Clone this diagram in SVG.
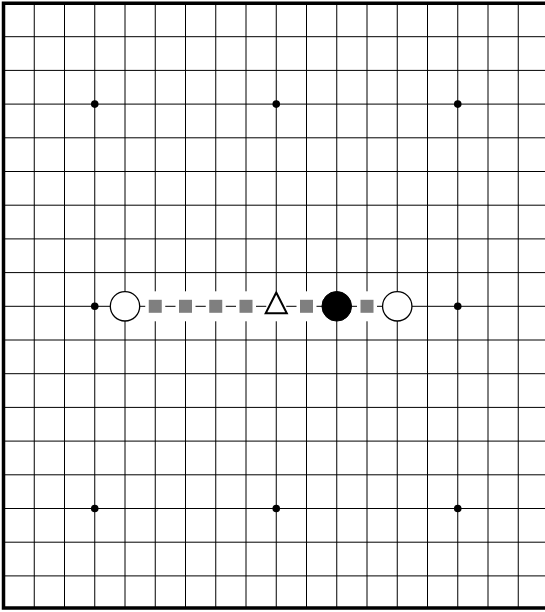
<svg xmlns="http://www.w3.org/2000/svg" width="545" height="612" viewBox="0 0 545 612">
<defs>
<style>
.grid{stroke:#000;stroke-width:1;fill:none}
.border{stroke:#000;stroke-width:3.5;fill:none;stroke-linecap:square}
.star{fill:#000}
.wbg{fill:#fff;stroke:none}
.sq{fill:#7f7f7f}
.white{fill:#fff;stroke:#000;stroke-width:1.3}
.black{fill:#000;stroke:#000;stroke-width:1}
.tri{fill:#fff;stroke:#000;stroke-width:2;stroke-linejoin:miter}
</style>
<g id="mark-bg"><rect class="wbg" x="-10" y="-15" width="20" height="30"/></g>
<g id="sqmark"><use href="#mark-bg"/><rect class="sq" x="-6.5" y="-6.5" width="13" height="13"/></g>
</defs>
<rect width="545" height="612" fill="#fff"/>
<g id="board">
<path class="grid" d="M34.25 3V608M64.5 3V608M94.75 3V608M125 3V608M155.25 3V608M185.5 3V608M215.75 3V608M246 3V608M276.25 3V608M306.5 3V608M336.75 3V608M367 3V608M397.25 3V608M427.5 3V608M457.75 3V608M488 3V608M518.25 3V608"/>
<path class="grid" d="M4 36.7H545M4 70.4H545M4 104.1H545M4 137.8H545M4 171.5H545M4 205.2H545M4 238.9H545M4 272.6H545M4 306.3H545M4 340H545M4 373.7H545M4 407.4H545M4 441.1H545M4 474.8H545M4 508.5H545M4 542.2H545M4 575.9H545"/>
<path class="border" d="M547 3.2H3.5V608H547"/>
<g id="stars">
<circle class="star" cx="94.75" cy="104.1" r="3.8"/>
<circle class="star" cx="276.25" cy="104.1" r="3.8"/>
<circle class="star" cx="457.75" cy="104.1" r="3.8"/>
<circle class="star" cx="94.75" cy="306.3" r="3.8"/>
<circle class="star" cx="457.75" cy="306.3" r="3.8"/>
<circle class="star" cx="94.75" cy="508.5" r="3.8"/>
<circle class="star" cx="276.25" cy="508.5" r="3.8"/>
<circle class="star" cx="457.75" cy="508.5" r="3.8"/>
</g>
</g>
<g id="connectors"></g>
<g id="sq5"><use href="#sqmark" x="155.25" y="306.3"/></g>
<g id="sq6"><use href="#sqmark" x="185.5" y="306.3"/></g>
<g id="sq7"><use href="#sqmark" x="215.75" y="306.3"/></g>
<g id="sq8"><use href="#sqmark" x="246" y="306.3"/></g>
<g id="sq10"><use href="#sqmark" x="306.5" y="306.3"/></g>
<g id="sq12"><use href="#sqmark" x="367" y="306.3"/></g>
<g id="triangle"><use href="#mark-bg" x="276.25" y="306.3"/><polygon class="tri" points="276.25,292.5 265.7,313.3 286.8,313.3"/></g>
<g id="white1"><circle class="white" cx="125" cy="306.3" r="14.7"/></g>
<g id="black1"><circle class="black" cx="336.75" cy="306.3" r="14.8"/></g>
<g id="white2"><circle class="white" cx="397.25" cy="306.3" r="14.7"/></g>
</svg>
